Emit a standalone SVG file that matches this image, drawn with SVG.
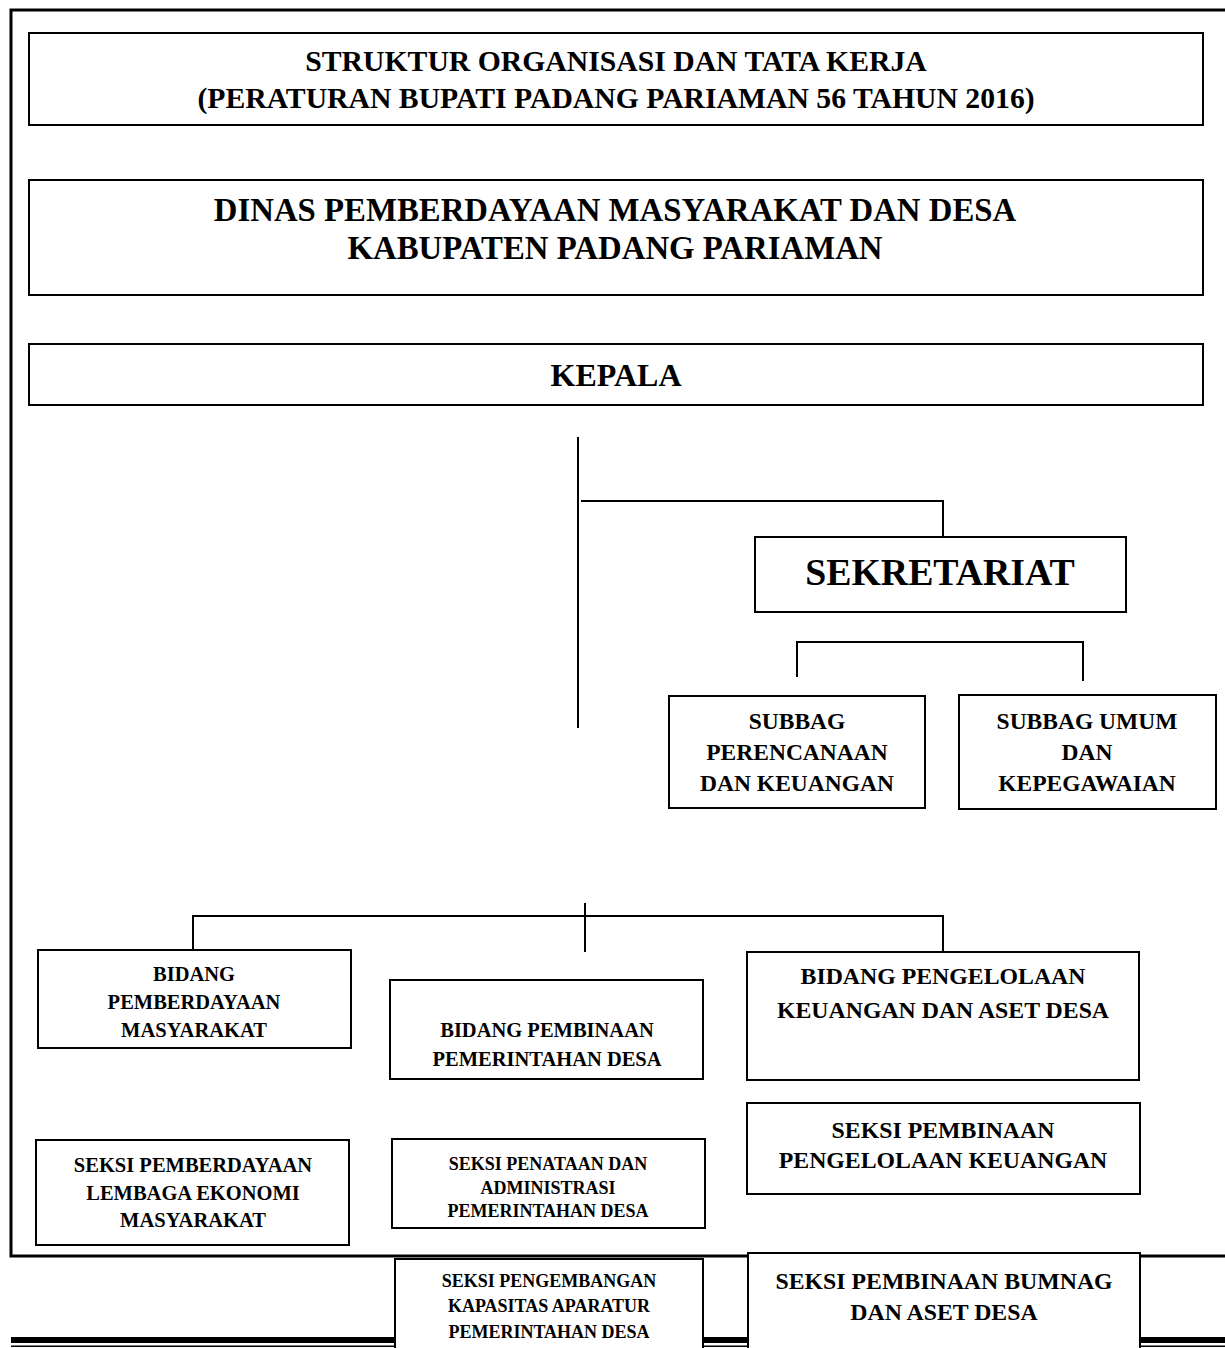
<svg xmlns="http://www.w3.org/2000/svg" width="1225" height="1348" viewBox="0 0 1225 1348">
<style>
.box{fill:#fff;stroke:#000;stroke-width:2}
.ln{stroke:#000;stroke-width:2;fill:none}
text{font-family:"Liberation Serif","Times New Roman",serif;font-weight:bold;fill:#000;text-anchor:middle}
</style>
<rect width="1225" height="1348" fill="#fff"/>
<g id="frame">
<rect x="11" y="10" width="1225" height="1246" fill="none" stroke="#000" stroke-width="3"/>
<rect x="11" y="1337" width="1214" height="6" fill="#000"/>
<rect x="11" y="1345.5" width="1214" height="1.5" fill="#000"/>
</g>
<g id="connectors">
<line class="ln" x1="578" y1="437" x2="578" y2="728"/>
<polyline class="ln" points="581,501 943,501 943,537"/>
<polyline class="ln" points="797,677 797,642 1083,642 1083,681"/>
<polyline class="ln" points="193,950 193,916 943,916 943,952"/>
<line class="ln" x1="585" y1="903" x2="585" y2="952"/>
</g>
<g id="title">
<rect class="box" x="29" y="33" width="1174" height="92"/>
<text x="616" y="71" font-size="29.7">STRUKTUR ORGANISASI DAN TATA KERJA</text>
<text x="616" y="108" font-size="29.7">(PERATURAN BUPATI PADANG PARIAMAN 56 TAHUN 2016)</text>
</g>
<g id="dinas">
<rect class="box" x="29" y="180" width="1174" height="115"/>
<text x="615" y="221" font-size="32.8">DINAS PEMBERDAYAAN MASYARAKAT DAN DESA</text>
<text x="615" y="259" font-size="32.8">KABUPATEN PADANG PARIAMAN</text>
</g>
<g id="kepala">
<rect class="box" x="29" y="344" width="1174" height="61"/>
<text x="616" y="386" font-size="32">KEPALA</text>
</g>
<g id="sekretariat">
<rect class="box" x="755" y="537" width="371" height="75"/>
<text x="940" y="585" font-size="37.8">SEKRETARIAT</text>
</g>
<g id="subbag-perencanaan">
<rect class="box" x="669" y="696" width="256" height="112"/>
<text x="797" y="729" font-size="23.5">SUBBAG</text>
<text x="797" y="760" font-size="23.5">PERENCANAAN</text>
<text x="797" y="791" font-size="23.5">DAN KEUANGAN</text>
</g>
<g id="subbag-umum">
<rect class="box" x="959" y="695" width="257" height="114"/>
<text x="1087" y="729" font-size="23.5">SUBBAG UMUM</text>
<text x="1087" y="760" font-size="23.5">DAN</text>
<text x="1087" y="791" font-size="23.5">KEPEGAWAIAN</text>
</g>
<g id="bidang-pemberdayaan">
<rect class="box" x="38" y="950" width="313" height="98"/>
<text x="194" y="981" font-size="20.5">BIDANG</text>
<text x="194" y="1009" font-size="20.5">PEMBERDAYAAN</text>
<text x="194" y="1037" font-size="20.5">MASYARAKAT</text>
</g>
<g id="bidang-pembinaan">
<rect class="box" x="390" y="980" width="313" height="99"/>
<text x="547" y="1037" font-size="20.5">BIDANG PEMBINAAN</text>
<text x="547" y="1066" font-size="20.5">PEMERINTAHAN DESA</text>
</g>
<g id="bidang-pengelolaan">
<rect class="box" x="747" y="952" width="392" height="128"/>
<text x="943" y="984" font-size="23.8">BIDANG PENGELOLAAN</text>
<text x="943" y="1018" font-size="23.8">KEUANGAN DAN ASET DESA</text>
</g>
<g id="seksi-lembaga">
<rect class="box" x="36" y="1140" width="313" height="105"/>
<text x="193" y="1172" font-size="20.5">SEKSI PEMBERDAYAAN</text>
<text x="193" y="1200" font-size="20.5">LEMBAGA EKONOMI</text>
<text x="193" y="1227" font-size="20.5">MASYARAKAT</text>
</g>
<g id="seksi-penataan">
<rect class="box" x="392" y="1139" width="313" height="89"/>
<text x="548" y="1170" font-size="18">SEKSI PENATAAN DAN</text>
<text x="548" y="1194" font-size="18">ADMINISTRASI</text>
<text x="548" y="1217" font-size="18">PEMERINTAHAN DESA</text>
</g>
<g id="seksi-keuangan">
<rect class="box" x="747" y="1103" width="393" height="91"/>
<text x="943" y="1138" font-size="23.8">SEKSI PEMBINAAN</text>
<text x="943" y="1168" font-size="23.8">PENGELOLAAN KEUANGAN</text>
</g>
<g id="seksi-pengembangan">
<rect class="box" x="395" y="1259" width="308" height="100"/>
<text x="549" y="1287" font-size="18">SEKSI PENGEMBANGAN</text>
<text x="549" y="1312" font-size="18">KAPASITAS APARATUR</text>
<text x="549" y="1338" font-size="18">PEMERINTAHAN DESA</text>
</g>
<g id="seksi-bumnag">
<rect class="box" x="748" y="1253" width="392" height="110"/>
<text x="944" y="1289" font-size="23.8">SEKSI PEMBINAAN BUMNAG</text>
<text x="944" y="1320" font-size="23.8">DAN ASET DESA</text>
</g>
</svg>
